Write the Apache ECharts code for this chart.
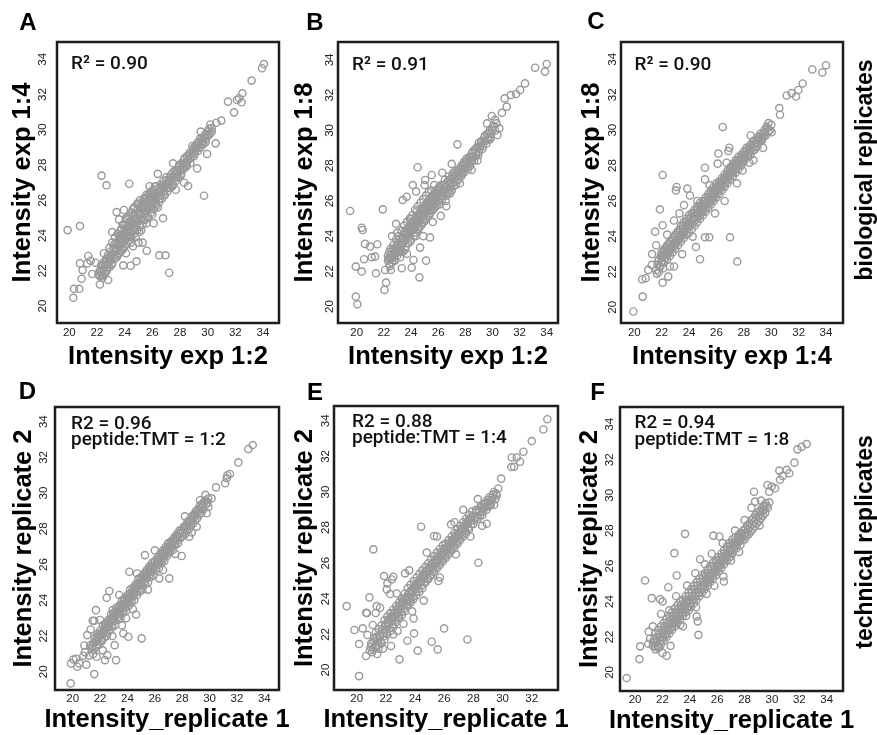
<!DOCTYPE html>
<html>
<head>
<meta charset="utf-8">
<script src="https://cdn.jsdelivr.net/npm/echarts@6/dist/echarts.min.js"></script>
<style>html,body{margin:0;padding:0;background:#fff}#chart{width:877px;height:735px}</style>
</head>
<body>
<div id="chart"></div>
<script>
// ---------------- DATA ----------------
const panelLetters = ['A', 'B', 'C', 'D', 'E', 'F'];
const xTitles = ['Intensity exp 1:2', 'Intensity exp 1:2', 'Intensity exp 1:4',
  'Intensity_replicate 1', 'Intensity_replicate 1', 'Intensity_replicate 1'];
const yTitles = ['Intensity exp 1:4', 'Intensity exp 1:8', 'Intensity exp 1:8',
  'Intensity replicate 2', 'Intensity replicate 2', 'Intensity replicate 2'];
const r2Labels = ['R\u00b2 = 0.90', 'R\u00b2 = 0.91', 'R\u00b2 = 0.90', 'R2 = 0.96', 'R2 = 0.88', 'R2 = 0.94'];
const ratioLabels = ['', '', '', 'peptide:TMT = 1:2', 'peptide:TMT = 1:4', 'peptide:TMT = 1:8'];
const rowLabels = ['biological replicates', 'technical replicates'];
const ticksFull = [20, 22, 24, 26, 28, 30, 32, 34];
const ticksShort = [20, 22, 24, 26, 28, 30, 32];

const pointsA = [
[22.1,21.8],[22.2,22.0],[22.2,21.7],[22.3,22.3],[22.3,21.9],[22.4,21.6],[22.5,22.1],[22.5,22.5],[22.6,21.9],[22.6,22.3],[22.7,22.7],[22.7,22.0],[22.8,22.4],[22.8,22.9],[22.9,22.2],[22.9,23.3],[23.0,22.6],[23.0,23.1],[23.1,22.4],[23.1,23.6],[23.2,22.9],[23.2,23.3],[23.3,22.7],[23.3,23.9],[23.4,23.2],[23.4,23.6],[23.5,22.9],[23.5,24.1],[23.6,23.4],[23.6,23.8],[23.7,23.1],[23.7,24.3],[23.8,23.6],[23.8,24.0],[23.9,23.3],[23.9,24.6],[24.0,23.8],[24.0,24.3],[24.1,23.5],[24.1,24.9],[24.2,24.0],[24.2,24.5],[24.3,23.7],[24.3,25.1],[24.4,24.2],[24.4,24.7],[24.5,23.9],[24.5,25.3],[24.6,24.4],[24.6,24.9],[24.7,24.1],[24.7,25.6],[24.8,24.6],[24.8,25.1],[24.9,24.3],[24.9,25.8],[25.0,24.8],[25.0,25.3],[25.1,24.5],[25.1,26.0],[25.2,25.0],[25.2,25.5],[25.3,24.6],[25.3,25.9],[25.4,25.2],[25.4,25.7],[25.5,24.9],[25.5,26.1],[25.6,25.4],[25.6,25.8],[25.7,25.1],[25.7,26.3],[25.8,25.6],[25.8,26.0],[25.9,25.3],[25.9,26.5],[26.0,25.8],[26.0,26.2],[26.1,25.5],[26.1,26.6],[26.2,26.0],[26.2,26.3],[26.3,25.7],[26.3,26.8],[26.4,26.2],[26.5,26.5],[26.5,25.9],[26.6,26.3],[26.6,26.9],[26.7,26.6],[26.7,26.1],[26.8,26.5],[26.8,27.1],[26.9,26.8],[26.9,26.3],[27.0,26.7],[27.0,27.3],[27.1,27.0],[27.1,26.5],[27.2,26.9],[27.3,27.3],[27.3,26.7],[27.4,27.1],[27.5,27.6],[27.5,26.9],[27.6,27.3],[27.7,27.7],[27.7,27.1],[27.8,27.5],[27.9,27.9],[27.9,27.3],[28.0,27.7],[28.1,28.1],[28.1,27.5],[28.2,27.9],[28.3,28.3],[28.3,27.8],[28.4,28.1],[28.5,28.5],[28.5,28.0],[28.6,28.3],[28.7,28.7],[28.8,28.4],[28.9,28.8],[29.0,28.5],[29.0,29.0],[29.1,28.8],[29.2,29.1],[29.3,28.8],[29.4,29.3],[29.5,29.0],[29.6,29.5],[29.7,29.2],[29.8,29.7],[29.9,29.5],[30.0,29.9],[30.1,29.7],[30.3,30.1],
[22.25,22.05],[22.35,21.75],[22.45,22.35],[22.55,21.8],[22.65,22.55],[22.75,22.2],[22.85,22.65],[22.95,22.85],[23.05,22.35],[23.15,23.0],[23.25,23.5],[23.35,23.1],[23.45,22.8],[23.55,23.5],[23.65,24.0],[23.75,23.55],[23.85,23.2],[23.95,24.1],[24.05,24.6],[24.15,23.9],[24.25,24.3],[24.35,24.8],[24.45,23.6],[24.55,24.6],[24.65,25.2],[24.75,24.35],[24.85,24.9],[24.95,25.5],[25.05,24.2],[25.15,25.2],[25.25,25.75],[25.35,24.9],[25.45,25.45],[25.55,26.3],[25.65,25.0],[25.75,25.6],[25.85,26.2],[25.95,25.6],[26.05,26.0],[26.15,26.4],[26.25,25.8],[26.35,26.4],[26.45,26.7],[26.55,26.1],[26.65,26.6],[26.75,26.85],[26.85,26.3],[26.95,26.9],[27.05,27.15],[27.15,26.7],[27.25,27.1],[27.35,27.45],[27.45,26.8],[27.55,27.35],[27.65,27.5],[27.75,27.3],[27.85,27.7],[27.95,28.0],[28.05,27.4],[28.15,27.8],[28.25,28.05],[28.35,28.4],[28.45,27.9],[28.55,28.25],[28.65,28.55],[28.75,28.1],[28.85,28.6],[28.95,28.9],[29.05,28.65],[29.15,28.95],[29.25,29.25],[29.35,29.0],[29.45,29.5],[29.55,29.2],[29.65,29.35],[29.75,29.55],[29.85,29.3],[29.95,29.75],[30.1,30.05],[30.2,29.8],
[23.6,23.0],[23.8,24.4],[24.0,23.4],[24.2,25.0],[24.4,23.9],[24.6,25.5],[24.8,23.9],[25.0,25.8],[25.2,24.3],[25.4,26.1],[25.6,24.7],[25.8,26.4],[26.0,25.2],[26.2,26.8],[26.4,25.6],[24.3,24.5],[24.5,24.7],[24.7,24.9],[24.9,25.0],[25.1,25.3],[25.3,25.5],[25.5,25.6],[25.7,25.8],[25.9,26.0],[26.1,26.2],[23.5,23.5],[23.7,23.8],[23.9,24.0],[24.1,24.2],[22.9,22.6],
[19.88,24.31],[20.29,20.47],[20.34,20.98],[20.72,20.98],[20.77,24.54],[20.89,21.55],[20.77,22.42],[20.96,22.04],[21.37,22.84],[21.3,22.42],[21.54,22.57],[21.66,21.82],[21.9,22.46],[22.33,27.4],[22.69,26.85],[24.33,26.94],[23.42,25.33],[23.95,25.45],[23.6,24.92],[24.09,24.98],[23.85,24.6],[22.21,21.23],[22.41,21.74],[22.81,21.48],[23.9,22.31],[24.43,22.29],[24.86,22.54],[25.6,23.14],[26.5,22.88],[26.95,22.88],[27.22,21.89],[26.78,24.98],[29.74,26.26],[28.59,26.81],[29.24,27.81],[28.9,29.08],[29.96,28.63],[30.58,29.23],[30.63,30.4],[30.99,30.52],[31.47,31.6],[31.91,30.99],[32.12,31.69],[32.27,31.79],[32.46,31.56],[32.51,32.07],[33.18,32.79],[33.93,33.49],[34.07,33.73],[27.5,28.1],[25.3,23.6],[24.6,23.4],[26.1,24.7],[27.7,26.6],[28.3,27.0],[30.3,29.9],[30.2,30.3],[29.5,29.9],[25.8,26.8],[26.4,27.5],[23.1,24.2],[22.5,23.0],[24.1,23.0],[25.0,23.6]
];

const pointsB = [
[22.3,22.6],[22.3,22.9],[22.4,22.4],[22.4,23.1],[22.5,22.7],[22.5,23.3],[22.6,22.5],[22.6,23.0],[22.7,22.8],[22.7,23.5],[22.8,23.1],[22.8,22.6],[22.9,23.4],[22.9,23.8],[23.0,22.9],[23.0,23.6],[23.1,23.2],[23.1,24.0],[23.2,23.5],[23.2,22.8],[23.3,23.8],[23.3,24.3],[23.4,23.1],[23.4,23.6],[23.5,24.1],[23.5,24.6],[23.6,23.4],[23.6,23.9],[23.7,24.4],[23.7,24.8],[23.8,23.6],[23.8,24.1],[23.9,24.6],[23.9,25.0],[24.0,23.8],[24.0,24.3],[24.1,24.8],[24.1,25.2],[24.2,24.0],[24.2,24.5],[24.3,25.0],[24.3,25.5],[24.4,24.2],[24.4,24.7],[24.5,25.2],[24.5,25.7],[24.6,24.5],[24.6,24.9],[24.7,25.4],[24.7,25.9],[24.8,24.7],[24.8,25.2],[24.9,25.6],[24.9,26.1],[25.0,24.9],[25.0,25.4],[25.1,25.8],[25.1,26.3],[25.2,25.1],[25.2,25.6],[25.3,26.0],[25.3,26.5],[25.4,25.3],[25.4,25.8],[25.5,26.2],[25.5,26.6],[25.6,25.5],[25.6,26.0],[25.7,26.4],[25.7,26.9],[25.8,25.7],[25.8,26.2],[25.9,26.6],[26.0,26.0],[26.0,26.4],[26.1,26.8],[26.1,25.8],[26.2,26.3],[26.2,26.9],[26.3,26.6],[26.3,26.1],[26.4,26.9],[26.5,26.5],[26.5,27.2],[26.6,26.8],[26.6,26.3],[26.7,27.1],[26.8,26.7],[26.8,27.4],[26.9,27.0],[27.0,26.6],[27.0,27.3],[27.1,27.6],[27.1,27.0],[27.2,27.3],[27.3,27.7],[27.3,26.9],[27.4,27.4],[27.5,27.8],[27.5,27.2],[27.6,27.6],[27.7,28.0],[27.7,27.4],[27.8,27.8],[27.9,28.2],[27.9,27.6],[28.0,28.0],[28.1,28.4],[28.2,28.1],[28.2,27.8],[28.3,28.5],[28.4,28.2],[28.5,28.7],[28.5,28.3],[28.6,28.5],[28.7,28.9],[28.8,28.6],[28.9,29.0],[29.0,28.8],[29.0,29.3],[29.1,29.1],[29.2,29.4],[29.3,29.1],[29.4,29.6],[29.5,29.4],[29.6,29.8],[29.7,29.5],[29.8,30.0],[29.9,29.8],[30.0,30.2],[30.2,30.0],[30.3,30.4],
[22.35,22.75],[22.45,22.3],[22.55,22.95],[22.65,23.25],[22.75,22.65],[22.85,23.3],[22.95,23.05],[23.05,23.5],[23.15,23.85],[23.25,23.15],[23.35,23.5],[23.45,23.9],[23.55,23.25],[23.65,24.15],[23.75,24.05],[23.85,24.5],[23.95,23.7],[24.05,24.55],[24.15,24.35],[24.25,24.8],[24.35,24.0],[24.45,24.95],[24.55,24.4],[24.65,25.2],[24.75,24.6],[24.85,25.45],[24.95,24.8],[25.05,25.6],[25.15,25.0],[25.25,25.85],[25.35,25.2],[25.45,25.65],[25.55,25.45],[25.65,26.2],[25.75,25.6],[25.85,26.4],[25.95,25.8],[26.05,26.55],[26.15,26.1],[26.25,26.6],[26.35,26.35],[26.45,26.75],[26.55,26.0],[26.65,27.0],[26.75,26.5],[26.85,27.2],[26.95,26.8],[27.05,27.45],[27.15,26.85],[27.25,27.5],[27.35,27.15],[27.45,27.65],[27.55,27.4],[27.65,27.85],[27.75,27.55],[27.85,28.05],[27.95,27.8],[28.05,28.25],[28.15,27.9],[28.25,28.35],[28.35,28.0],[28.45,28.5],[28.55,28.8],[28.65,28.3],[28.75,28.75],[28.85,29.05],[28.95,28.6],[29.05,29.05],[29.15,29.3],[29.25,28.95],[29.35,29.4],[29.45,29.7],[29.55,29.25],[29.65,29.6],[29.75,29.85],[29.85,29.6],[29.95,30.05],[30.1,30.25],
[23.6,24.3],[23.8,23.9],[24.0,25.0],[24.2,24.7],[24.4,25.4],[24.6,25.1],[24.8,25.6],[25.0,25.2],[25.2,25.9],[25.4,25.5],[25.6,26.3],[25.8,25.9],[26.0,26.7],[24.3,24.6],[24.5,24.8],[24.7,25.1],[24.9,25.3],[25.1,25.5],[25.3,25.7],[25.5,25.9],[25.7,26.1],[25.9,26.3],[23.9,24.3],[24.1,24.5],[23.4,23.9],[23.2,23.2],[23.0,23.3],[22.8,22.9],[22.6,22.8],[22.4,22.7],
[19.51,25.43],[19.93,20.57],[20.05,20.13],[19.93,22.27],[20.37,21.99],[20.37,24.48],[20.44,24.35],[20.54,22.69],[20.61,23.56],[20.98,23.41],[21.1,22.8],[21.35,22.84],[21.52,23.54],[21.42,21.89],[21.92,25.52],[22.09,22.08],[22.16,21.36],[22.04,20.95],[22.51,22.08],[23.32,22.18],[24.05,22.21],[24.62,21.66],[25.11,22.61],[24.18,22.65],[24.67,23.35],[24.49,27.91],[23.39,26.05],[23.68,26.24],[24.13,26.9],[24.37,26.53],[25.04,27.19],[25.53,27.47],[25.4,23.93],[26.19,25.15],[26.88,26.43],[28.47,27.76],[28.3,28.23],[27.42,29.21],[29.83,29.5],[30.37,29.74],[30.51,30.12],[29.95,30.82],[30.9,31.82],[31.35,32.01],[31.74,32.07],[32.04,32.3],[32.4,32.67],[33.14,33.56],[33.87,33.34],[34.0,33.77],[31.05,31.35],[30.7,31.0],[22.9,24.7],[23.0,24.2],[22.6,24.0],[23.7,23.0],[24.9,24.0],[25.6,24.8],[26.6,25.7],[27.6,27.0],[28.9,28.3],[29.6,30.4],[30.2,30.6],[25.0,26.9],[26.3,27.6],[27.0,28.1]
];

const pointsC = [
[21.6,22.1],[21.7,22.4],[21.8,22.0],[21.8,22.7],[21.9,22.3],[22.0,22.6],[22.0,23.1],[22.1,22.2],[22.1,22.9],[22.2,23.3],[22.2,22.6],[22.3,23.0],[22.4,23.5],[22.4,22.7],[22.5,23.2],[22.6,23.7],[22.6,22.9],[22.7,23.4],[22.8,23.9],[22.8,23.1],[22.9,23.6],[23.0,24.1],[23.0,23.3],[23.1,23.8],[23.2,24.3],[23.2,23.5],[23.3,24.0],[23.4,24.6],[23.4,23.7],[23.5,24.2],[23.6,24.8],[23.6,23.9],[23.7,24.4],[23.8,25.0],[23.8,24.1],[23.9,24.6],[24.0,25.2],[24.0,24.2],[24.1,24.8],[24.2,25.3],[24.2,24.4],[24.3,25.0],[24.4,25.5],[24.4,24.6],[24.5,25.1],[24.6,25.7],[24.6,24.8],[24.7,25.3],[24.8,25.9],[24.8,25.0],[24.9,25.5],[25.0,26.0],[25.0,25.2],[25.1,25.7],[25.2,26.2],[25.2,25.4],[25.3,25.9],[25.4,26.4],[25.4,25.6],[25.5,26.1],[25.6,26.6],[25.6,25.8],[25.7,26.3],[25.8,26.8],[25.8,26.0],[25.9,26.5],[26.0,27.0],[26.0,26.2],[26.1,26.7],[26.2,27.1],[26.2,26.4],[26.3,26.9],[26.4,27.3],[26.4,26.6],[26.5,27.1],[26.6,27.5],[26.6,26.8],[26.7,27.3],[26.8,27.7],[26.8,27.0],[26.9,27.5],[27.0,27.9],[27.0,27.2],[27.1,27.7],[27.2,28.1],[27.2,27.4],[27.3,27.9],[27.4,28.3],[27.4,27.6],[27.5,28.1],[27.6,28.5],[27.6,27.8],[27.7,28.3],[27.8,28.6],[27.8,28.0],[27.9,28.4],[28.0,28.8],[28.0,28.2],[28.1,28.6],[28.2,29.0],[28.3,28.5],[28.4,28.9],[28.5,29.2],[28.5,28.6],[28.6,29.0],[28.7,29.4],[28.8,28.9],[28.9,29.3],[29.0,29.6],[29.0,29.1],[29.1,29.5],[29.2,29.8],[29.3,29.4],[29.4,29.8],[29.5,30.0],[29.6,29.7],[29.7,30.1],[29.9,30.0],[30.0,30.3],
[21.65,21.9],[21.75,22.6],[21.85,22.3],[21.95,22.9],[22.05,22.5],[22.15,23.2],[22.25,22.8],[22.35,23.4],[22.45,23.0],[22.55,23.6],[22.65,23.2],[22.75,23.8],[22.85,23.4],[22.95,24.0],[23.05,23.6],[23.15,24.2],[23.25,23.8],[23.35,24.4],[23.45,24.0],[23.55,24.6],[23.65,24.2],[23.75,24.8],[23.85,24.4],[23.95,25.0],[24.05,24.6],[24.15,25.1],[24.25,24.7],[24.35,25.3],[24.45,24.9],[24.55,25.5],[24.65,25.1],[24.75,25.7],[24.85,25.3],[24.95,25.8],[25.05,25.45],[25.15,26.0],[25.25,25.65],[25.35,26.2],[25.45,25.85],[25.55,26.4],[25.65,26.05],[25.75,26.6],[25.85,26.25],[25.95,26.75],[26.05,26.45],[26.15,26.9],[26.25,26.65],[26.35,27.1],[26.45,26.85],[26.55,27.3],[26.65,27.05],[26.75,27.5],[26.85,27.25],[26.95,27.7],[27.05,27.45],[27.15,27.9],[27.25,27.65],[27.35,28.1],[27.45,27.85],[27.55,28.3],[27.65,28.05],[27.75,28.45],[27.85,28.2],[27.95,28.6],[28.05,28.4],[28.15,28.8],[28.25,28.6],[28.35,29.0],[28.45,28.75],[28.55,29.1],[28.65,28.85],[28.75,29.2],[28.85,29.05],[28.95,29.45],[29.05,29.3],[29.15,29.65],[29.25,29.5],[29.35,29.6],[29.45,29.65],[29.55,29.9],[29.65,30.2],[29.8,29.9],
[23.0,23.7],[23.2,23.9],[23.4,24.1],[23.6,24.3],[23.8,24.6],[24.0,24.7],[24.2,24.9],[24.4,25.1],[24.6,25.3],[24.8,25.5],[25.0,25.6],[25.2,25.8],[25.4,26.0],[25.6,26.2],[25.8,26.4],[26.0,26.6],[26.2,26.8],[26.4,27.0],[26.6,27.2],[26.8,27.4],[27.0,27.6],[27.2,27.8],[27.4,28.0],[27.6,28.2],[27.8,28.3],[22.4,23.2],[22.2,23.0],[22.0,22.8],[22.6,23.3],[22.8,23.5],
[19.93,19.76],[20.61,20.6],[20.58,21.58],[20.83,21.64],[21.02,22.11],[21.27,22.39],[21.52,24.27],[21.87,25.53],[22.07,27.47],[22.07,24.63],[22.07,21.39],[22.48,21.73],[22.6,22.3],[23.09,26.79],[23.04,26.59],[23.87,26.7],[24.07,26.31],[23.63,25.77],[25.16,27.88],[25.16,27.22],[26.14,28.68],[26.46,30.18],[26.87,28.82],[26.94,29.01],[26.74,28.16],[26.09,28.11],[24.8,22.71],[25.16,23.95],[25.48,23.95],[26.99,23.95],[27.52,22.58],[24.26,23.99],[28.4,28.16],[27.91,27.72],[29.3,29.46],[30.03,29.88],[30.64,30.87],[30.59,31.25],[31.13,31.96],[31.49,32.09],[31.81,31.9],[31.98,32.27],[32.3,32.64],[33.0,33.43],[33.73,33.26],[34.0,33.67],[21.3,23.0],[21.6,23.5],[22.4,24.1],[22.9,24.9],[23.3,25.3],[24.5,23.4],[23.5,23.0],[22.9,22.3],[25.9,25.3],[26.6,26.0],[27.5,27.0],[28.7,28.3],[29.4,29.0],[28.5,29.7],[29.8,30.4],[24.6,26.0],[25.5,26.9]
];

const pointsD = [
[21.4,21.3],[21.5,21.6],[21.5,21.0],[21.6,21.9],[21.7,21.4],[21.7,21.7],[21.8,22.1],[21.9,21.5],[21.9,21.9],[22.0,22.3],[22.1,21.7],[22.1,22.1],[22.2,22.6],[22.3,21.9],[22.3,22.3],[22.4,22.7],[22.5,22.0],[22.5,22.5],[22.6,22.9],[22.7,22.3],[22.7,22.7],[22.8,23.2],[22.9,22.5],[22.9,22.9],[23.0,23.3],[23.1,22.6],[23.1,23.1],[23.2,23.6],[23.3,22.9],[23.3,23.3],[23.4,23.7],[23.5,23.0],[23.5,23.5],[23.6,24.0],[23.7,23.3],[23.7,23.7],[23.8,24.1],[23.9,23.4],[23.9,23.9],[24.0,24.3],[24.1,23.7],[24.1,24.1],[24.2,24.6],[24.3,23.9],[24.3,24.3],[24.4,24.7],[24.5,24.0],[24.5,24.5],[24.6,24.9],[24.7,24.3],[24.7,24.7],[24.8,25.2],[24.9,24.5],[24.9,24.9],[25.0,25.3],[25.1,24.6],[25.1,25.1],[25.2,25.5],[25.3,24.9],[25.3,25.3],[25.4,25.7],[25.5,25.0],[25.5,25.5],[25.6,25.9],[25.7,25.3],[25.7,25.7],[25.8,26.1],[25.9,25.4],[25.9,25.9],[26.0,26.2],[26.1,25.7],[26.1,26.0],[26.2,26.4],[26.3,25.8],[26.3,26.2],[26.4,26.6],[26.5,26.1],[26.5,26.4],[26.6,26.8],[26.7,26.2],[26.7,26.6],[26.8,27.0],[26.9,26.5],[26.9,26.8],[27.0,27.2],[27.1,26.7],[27.1,27.0],[27.2,27.3],[27.3,26.8],[27.3,27.2],[27.4,27.5],[27.5,27.1],[27.5,27.4],[27.6,27.7],[27.7,27.2],[27.7,27.6],[27.8,27.9],[27.9,27.5],[28.0,27.8],[28.1,28.1],[28.2,27.7],[28.3,28.1],[28.4,28.4],[28.5,28.0],[28.6,28.4],[28.7,28.7],[28.8,28.3],[28.9,28.7],[29.0,29.0],[29.1,28.6],[29.2,29.0],[29.3,29.3],[29.4,28.9],[29.5,29.3],[29.6,29.5],[29.8,29.4],[29.9,29.7],
[21.45,21.45],[21.55,21.25],[21.65,21.65],[21.75,21.9],[21.85,21.55],[21.95,22.15],[22.05,22.0],[22.15,21.8],[22.25,22.3],[22.35,22.55],[22.45,22.2],[22.55,22.75],[22.65,22.5],[22.75,22.95],[22.85,22.6],[22.95,23.15],[23.05,22.85],[23.15,23.35],[23.25,23.05],[23.35,23.55],[23.45,23.25],[23.55,23.75],[23.65,23.45],[23.75,23.95],[23.85,23.6],[23.95,24.15],[24.05,23.9],[24.15,24.35],[24.25,24.05],[24.35,24.55],[24.45,24.25],[24.55,24.75],[24.65,24.45],[24.75,24.95],[24.85,24.65],[24.95,25.15],[25.05,24.85],[25.15,25.35],[25.25,25.05],[25.35,25.55],[25.45,25.25],[25.55,25.75],[25.65,25.45],[25.75,25.9],[25.85,25.6],[25.95,26.1],[26.05,25.85],[26.15,26.25],[26.25,26.0],[26.35,26.45],[26.45,26.2],[26.55,26.6],[26.65,26.35],[26.75,26.8],[26.85,26.6],[26.95,27.0],[27.05,26.8],[27.15,27.15],[27.25,26.95],[27.35,27.35],[27.45,27.15],[27.55,27.55],[27.65,27.35],[27.75,27.75],[27.85,27.5],[27.95,27.9],[28.05,27.6],[28.15,28.0],[28.25,28.2],[28.35,27.9],[28.45,28.25],[28.55,28.5],[28.65,28.2],[28.75,28.55],[28.85,28.8],[28.95,28.5],[29.05,28.85],[29.15,29.1],[29.25,28.8],[29.35,29.15],[29.45,29.4],[29.55,29.1],[29.7,29.6],[29.85,29.5],
[22.0,22.05],[22.2,22.15],[22.4,22.45],[22.6,22.55],[22.8,22.85],[23.0,22.95],[23.2,23.25],[23.4,23.35],[23.6,23.65],[23.8,23.75],[24.0,24.05],[24.2,24.15],[24.4,24.45],[24.6,24.55],[24.8,24.85],[25.0,24.95],[25.2,25.25],[25.4,25.35],[25.6,25.65],[25.8,25.75],[26.0,25.95],[26.2,26.2],[26.4,26.3],[26.6,26.6],[26.8,26.7],[27.0,27.0],[27.2,27.1],[27.4,27.35],[27.6,27.5],[27.8,27.75],
[19.85,19.35],[19.88,20.47],[20.05,20.69],[20.24,20.73],[20.34,20.28],[20.49,20.47],[20.78,20.9],[20.85,21.47],[21.07,22.05],[21.27,21.47],[21.31,22.37],[21.46,22.86],[21.58,22.86],[21.7,23.45],[21.58,19.87],[21.75,20.84],[22.36,20.65],[22.53,20.93],[22.48,24.14],[22.68,24.52],[22.92,23.45],[23.17,20.65],[23.07,21.49],[23.7,22.15],[24.07,21.96],[24.14,25.6],[24.63,23.21],[25.04,21.87],[25.28,26.53],[26.33,25.23],[27.06,25.23],[26.99,27.19],[28.52,27.56],[27.96,26.48],[29.06,28.12],[29.79,28.87],[29.91,29.24],[30.15,29.71],[30.47,30.32],[31.13,30.55],[31.25,30.83],[31.49,31.07],[32.1,31.72],[32.83,32.47],[33.15,32.69],[31.3,31.0],[29.7,29.9],[29.3,29.6],[22.0,22.9],[22.9,22.0],[23.4,24.3],[23.9,23.0],[24.7,25.5],[25.5,24.6],[26.0,26.8],[26.6,25.7],[27.5,26.6],[28.2,28.7],[28.7,27.8],[21.2,20.9],[20.9,21.1],[21.0,20.4],[22.2,21.2],[23.6,22.6],[24.4,23.5]
];

const pointsE = [
[20.9,21.1],[21.0,21.5],[21.1,21.2],[21.2,21.8],[21.3,21.4],[21.3,22.1],[21.4,21.6],[21.5,22.3],[21.5,21.2],[21.6,21.9],[21.7,22.5],[21.7,21.5],[21.8,22.1],[21.9,22.8],[21.9,21.7],[22.0,22.3],[22.1,23.0],[22.1,22.0],[22.2,22.6],[22.3,23.2],[22.3,22.2],[22.4,22.8],[22.5,23.4],[22.5,22.4],[22.6,23.0],[22.7,23.6],[22.7,22.7],[22.8,23.2],[22.9,23.8],[22.9,22.9],[23.0,23.5],[23.1,24.0],[23.1,23.1],[23.2,23.7],[23.3,24.3],[23.3,23.3],[23.4,23.9],[23.5,24.6],[23.5,23.6],[23.6,24.1],[23.7,24.8],[23.7,23.8],[23.8,24.4],[23.9,25.0],[23.9,24.0],[24.0,24.6],[24.1,25.2],[24.1,24.2],[24.2,24.8],[24.3,25.4],[24.3,24.4],[24.4,25.0],[24.5,25.6],[24.5,24.6],[24.6,25.2],[24.7,25.8],[24.7,24.9],[24.8,25.4],[24.9,26.0],[24.9,25.1],[25.0,25.6],[25.1,26.2],[25.1,25.3],[25.2,25.8],[25.3,26.4],[25.3,25.5],[25.4,26.0],[25.5,26.6],[25.5,25.7],[25.6,26.2],[25.7,26.8],[25.7,25.9],[25.8,26.4],[25.9,27.0],[25.9,26.1],[26.0,26.6],[26.1,27.1],[26.1,26.3],[26.2,26.8],[26.3,27.3],[26.3,26.5],[26.4,27.0],[26.5,27.5],[26.5,26.7],[26.6,27.2],[26.7,27.7],[26.7,26.9],[26.8,27.4],[26.9,27.9],[26.9,27.1],[27.0,27.6],[27.1,28.1],[27.1,27.3],[27.2,27.8],[27.3,28.3],[27.3,27.5],[27.4,28.0],[27.5,28.5],[27.5,27.7],[27.6,28.2],[27.7,28.7],[27.7,27.9],[27.8,28.4],[27.9,28.9],[28.0,28.2],[28.1,28.6],[28.2,29.0],[28.3,28.5],[28.4,28.9],[28.5,29.2],[28.6,28.7],[28.7,29.1],[28.8,29.4],[28.9,29.0],[29.0,29.4],[29.1,29.7],[29.2,29.3],[29.3,29.7],[29.4,30.0],[29.6,29.8],[29.7,30.2],
[20.95,21.3],[21.05,21.0],[21.15,21.6],[21.25,21.3],[21.35,21.85],[21.45,21.4],[21.55,22.0],[21.65,21.6],[21.75,22.25],[21.85,21.9],[21.95,22.5],[22.05,22.1],[22.15,22.7],[22.25,22.35],[22.35,22.95],[22.45,22.55],[22.55,23.15],[22.65,22.8],[22.75,23.4],[22.85,23.0],[22.95,23.6],[23.05,23.25],[23.15,23.8],[23.25,23.45],[23.35,24.05],[23.45,23.7],[23.55,24.3],[23.65,23.9],[23.75,24.5],[23.85,24.1],[23.95,24.7],[24.05,24.35],[24.15,24.9],[24.25,24.55],[24.35,25.1],[24.45,24.75],[24.55,25.35],[24.65,24.95],[24.75,25.55],[24.85,25.15],[24.95,25.75],[25.05,25.35],[25.15,25.95],[25.25,25.6],[25.35,26.15],[25.45,25.8],[25.55,26.35],[25.65,26.0],[25.75,26.55],[25.85,26.2],[25.95,26.75],[26.05,26.4],[26.15,26.9],[26.25,26.6],[26.35,27.1],[26.45,26.8],[26.55,27.3],[26.65,27.0],[26.75,27.5],[26.85,27.2],[26.95,27.7],[27.05,27.4],[27.15,27.9],[27.25,27.6],[27.35,28.05],[27.45,27.8],[27.55,28.25],[27.65,28.0],[27.75,28.5],[27.85,28.2],[27.95,28.65],[28.05,28.4],[28.15,28.85],[28.25,28.6],[28.35,29.0],[28.45,28.7],[28.55,29.15],[28.65,28.9],[28.75,29.3],[28.85,29.15],[28.95,29.55],[29.05,29.2],[29.15,29.5],[29.25,29.55],[29.35,29.85],[29.5,29.6],
[22.0,22.6],[22.2,22.85],[22.4,23.0],[22.6,23.25],[22.8,23.4],[23.0,23.7],[23.2,23.95],[23.4,24.1],[23.6,24.35],[23.8,24.5],[24.0,24.75],[24.2,24.9],[24.4,25.15],[24.6,25.3],[24.8,25.55],[25.0,25.7],[25.2,25.95],[25.4,26.1],[25.6,26.35],[25.8,26.5],[26.0,26.75],[26.2,26.9],[26.4,27.15],[26.6,27.3],[26.8,27.55],[27.0,27.7],[27.2,27.95],[27.4,28.1],[27.6,28.35],[27.8,28.5],
[19.31,23.59],[19.84,22.25],[20.16,19.66],[20.16,21.46],[20.41,22.34],[20.64,23.22],[20.7,23.2],[20.64,20.79],[20.87,24.08],[20.73,21.97],[21.1,22.53],[21.14,26.78],[21.37,23.59],[21.87,25.28],[22.06,24.53],[22.1,24.87],[22.4,25.09],[22.51,25.24],[22.29,24.27],[22.74,24.3],[22.93,20.6],[22.35,21.35],[23.31,25.43],[23.47,21.65],[23.93,22.06],[24.18,21.09],[24.41,28.05],[25.14,21.59],[25.55,21.16],[25.99,22.34],[27.59,21.72],[25.3,27.53],[26.47,28.18],[28.34,26.03],[28.91,28.22],[29.14,29.25],[29.42,29.29],[29.55,29.91],[29.9,30.75],[30.63,31.94],[30.79,31.42],[30.97,31.94],[31.2,31.7],[31.43,32.26],[32.0,32.86],[32.8,33.51],[33.07,34.09],[30.6,31.4],[21.4,20.9],[21.8,21.2],[22.5,22.0],[21.6,23.5],[21.3,23.2],[22.8,22.2],[23.2,22.6],[23.8,23.3],[24.6,23.9],[23.9,22.9],[25.7,25.2],[25.6,25.0],[26.8,26.5],[27.8,27.5],[28.6,28.1],[28.3,29.6],[24.8,26.6],[25.5,27.5],[23.6,25.6],[26.7,28.3],[27.3,29.0]
];

const pointsF = [
[21.3,21.5],[21.4,21.9],[21.5,21.3],[21.5,22.2],[21.6,21.7],[21.7,22.4],[21.7,21.4],[21.8,22.0],[21.9,22.6],[21.9,21.6],[22.0,22.2],[22.1,22.8],[22.1,21.8],[22.2,22.4],[22.3,23.0],[22.3,22.0],[22.4,22.6],[22.5,23.2],[22.5,22.2],[22.6,22.8],[22.7,23.4],[22.7,22.4],[22.8,23.0],[22.9,23.6],[22.9,22.6],[23.0,23.2],[23.1,23.8],[23.1,22.8],[23.2,23.4],[23.3,24.0],[23.3,23.0],[23.4,23.6],[23.5,24.1],[23.5,23.2],[23.6,23.8],[23.7,24.3],[23.7,23.4],[23.8,24.0],[23.9,24.5],[23.9,23.5],[24.0,24.1],[24.1,24.7],[24.1,23.7],[24.2,24.3],[24.3,24.9],[24.3,23.9],[24.4,24.5],[24.5,25.1],[24.5,24.1],[24.6,24.7],[24.7,25.3],[24.7,24.3],[24.8,24.9],[24.9,25.5],[24.9,24.5],[25.0,25.1],[25.1,25.6],[25.1,24.7],[25.2,25.2],[25.3,25.8],[25.3,24.9],[25.4,25.4],[25.5,26.0],[25.5,25.1],[25.6,25.6],[25.7,26.2],[25.7,25.3],[25.8,25.8],[25.9,26.3],[25.9,25.5],[26.0,26.0],[26.1,26.5],[26.1,25.7],[26.2,26.2],[26.3,26.7],[26.3,25.9],[26.4,26.4],[26.5,26.9],[26.5,26.1],[26.6,26.6],[26.7,27.1],[26.7,26.3],[26.8,26.8],[26.9,27.3],[26.9,26.5],[27.0,27.0],[27.1,27.5],[27.1,26.7],[27.2,27.2],[27.3,27.6],[27.4,27.0],[27.5,27.4],[27.6,27.8],[27.7,27.2],[27.8,27.6],[27.9,28.0],[28.0,27.5],[28.1,27.9],[28.2,28.3],[28.3,27.8],[28.4,28.2],[28.5,28.6],[28.6,28.1],[28.7,28.5],[28.8,28.9],[28.9,28.4],[29.0,28.8],[29.1,29.1],[29.2,28.7],[29.3,29.1],[29.4,29.4],[29.5,29.0],[29.6,29.4],[29.8,29.6],
[21.35,21.7],[21.45,21.45],[21.55,21.95],[21.65,21.5],[21.75,22.15],[21.85,21.75],[21.95,22.35],[22.05,21.95],[22.15,22.55],[22.25,22.15],[22.35,22.75],[22.45,22.35],[22.55,22.95],[22.65,22.55],[22.75,23.15],[22.85,22.75],[22.95,23.35],[23.05,22.95],[23.15,23.55],[23.25,23.15],[23.35,23.75],[23.45,23.35],[23.55,23.9],[23.65,23.55],[23.75,24.1],[23.85,23.7],[23.95,24.3],[24.05,23.9],[24.15,24.5],[24.25,24.1],[24.35,24.7],[24.45,24.3],[24.55,24.9],[24.65,24.5],[24.75,25.1],[24.85,24.7],[24.95,25.3],[25.05,24.9],[25.15,25.45],[25.25,25.05],[25.35,25.6],[25.45,25.25],[25.55,25.8],[25.65,25.45],[25.75,26.0],[25.85,25.65],[25.95,26.15],[26.05,25.85],[26.15,26.35],[26.25,26.05],[26.35,26.55],[26.45,26.25],[26.55,26.75],[26.65,26.45],[26.75,26.95],[26.85,26.65],[26.95,27.15],[27.05,26.85],[27.15,27.35],[27.25,27.0],[27.35,27.4],[27.45,27.2],[27.55,27.65],[27.65,27.4],[27.75,27.85],[27.85,27.5],[27.95,27.8],[28.05,28.1],[28.15,27.7],[28.25,28.05],[28.35,28.4],[28.45,27.95],[28.55,28.35],[28.65,28.7],[28.75,28.25],[28.85,28.65],[28.95,29.0],[29.05,28.55],[29.15,28.9],[29.25,29.25],[29.35,28.85],[29.45,29.2],[29.55,29.55],[29.7,29.3],
[22.0,21.95],[22.2,22.1],[22.4,22.35],[22.6,22.5],[22.8,22.75],[23.0,22.9],[23.2,23.15],[23.4,23.3],[23.6,23.55],[23.8,23.7],[24.0,23.95],[24.2,24.1],[24.4,24.35],[24.6,24.5],[24.8,24.75],[25.0,24.9],[25.2,25.15],[25.4,25.3],[25.6,25.55],[25.8,25.7],[26.0,25.95],[26.2,26.1],[26.4,26.35],[26.6,26.5],[26.8,26.75],[27.0,26.9],[27.2,27.15],[27.4,27.3],[27.6,27.55],[27.8,27.7],
[19.39,19.68],[20.32,20.75],[20.37,21.47],[20.73,25.19],[20.97,21.62],[21.22,24.19],[21.83,24.13],[22.02,24.0],[21.78,21.43],[22.31,20.94],[22.6,21.5],[22.43,24.81],[22.87,26.73],[23.04,25.47],[23.65,27.82],[23.29,22.69],[23.73,23.19],[24.46,23.68],[24.5,23.16],[24.58,22.88],[24.63,22.12],[25.23,24.43],[25.79,24.89],[26.45,25.41],[26.49,25.13],[26.16,27.67],[25.72,27.72],[24.75,26.39],[27.01,26.32],[26.99,26.54],[28.16,27.89],[28.69,30.2],[28.77,29.64],[29.67,30.58],[29.98,30.49],[30.23,30.39],[30.54,31.39],[30.59,30.87],[30.79,31.09],[31.08,31.43],[31.27,31.24],[31.64,31.84],[31.86,32.59],[32.17,32.74],[32.54,32.89],[21.1,21.9],[21.0,22.3],[21.3,22.6],[21.9,23.3],[22.5,23.5],[23.0,24.3],[23.8,24.9],[24.4,25.6],[25.1,26.1],[25.6,26.7],[26.4,27.3],[27.3,28.0],[28.0,28.6],[28.5,29.3],[29.2,29.7],[29.8,30.2],[22.0,21.1],[23.5,22.6],[27.6,26.8],[29.1,28.3]
];

const panelPoints = [pointsA, pointsB, pointsC, pointsD, pointsE, pointsF];
const panelTicksX = [ticksFull, ticksFull, ticksFull, ticksFull, ticksShort, ticksFull];

// ---------------- LAYOUT ----------------
const layout = [
  { grid: [57, 42, 222, 281],  x: [19.11, 35.16], y: [19.04, 34.98], yLabM: 8,  yNameGap: 20, xNameGap: 21, letter: [28, 23], note: [71, 64.5] },
  { grid: [338, 42, 220, 281], x: [18.62, 34.83], y: [19.07, 35.02], yLabM: 2,  yNameGap: 20, xNameGap: 21, letter: [315, 23], note: [352, 65] },
  { grid: [621, 42, 222, 281], x: [19.03, 35.24], y: [19.11, 34.98], yLabM: 2,  yNameGap: 16, xNameGap: 21, letter: [596, 22.5], note: [634.5, 65] },
  { grid: [55, 407, 224, 283], x: [18.71, 35.07], y: [18.98, 34.82], yLabM: 5,  yNameGap: 18, xNameGap: 17, letter: [27.5, 392.5], note: [71, 424] },
  { grid: [334, 406, 224, 284], x: [18.44, 33.8], y: [18.88, 34.83], yLabM: 2,  yNameGap: 16, xNameGap: 17, letter: [315, 393.5], note: [352, 422] },
  { grid: [620, 407, 223, 284], x: [18.9, 35.19], y: [18.95, 34.98], yLabM: 4,  yNameGap: 15, xNameGap: 17, letter: [597.5, 393.5], note: [634.5, 423.5] }
];

const FONT = 'Liberation Sans, Arial, sans-serif';
const grids = [], xAxes = [], yAxes = [], series = [], graphics = [];

layout.forEach((L, i) => {
  grids.push({
    left: L.grid[0], top: L.grid[1], width: L.grid[2], height: L.grid[3],
    show: true, borderColor: '#1e1e1e', borderWidth: 2.5, backgroundColor: '#fff',
    containLabel: false, outerBoundsMode: 'none'
  });
  xAxes.push({
    gridIndex: i, type: 'value', min: L.x[0], max: L.x[1],
    axisLine: { show: false }, axisTick: { show: false }, splitLine: { show: false },
    axisLabel: { customValues: panelTicksX[i], fontSize: 11.5, color: '#222', margin: i < 3 ? 4 : 3, fontFamily: FONT },
    name: xTitles[i], nameLocation: 'middle', nameGap: L.xNameGap,
    nameTextStyle: { fontSize: 25.5, fontWeight: 'bold', fontFamily: FONT, color: '#000' }
  });
  yAxes.push({
    gridIndex: i, type: 'value', min: L.y[0], max: L.y[1],
    axisLine: { show: false }, axisTick: { show: false }, splitLine: { show: false },
    axisLabel: { customValues: ticksFull, fontSize: 11.5, color: '#222', margin: L.yLabM, rotate: 90, fontFamily: FONT },
    name: yTitles[i], nameLocation: 'middle', nameGap: L.yNameGap,
    nameTextStyle: { fontSize: 25.5, fontWeight: 'bold', fontFamily: FONT, color: '#000' }
  });
  series.push({
    type: 'scatter', xAxisIndex: i, yAxisIndex: i, data: panelPoints[i],
    symbol: 'circle', symbolSize: 7.2, silent: true,
    itemStyle: { color: 'rgba(0,0,0,0)', borderColor: '#999999', borderWidth: 1.4, opacity: 1 }
  });
  graphics.push({
    type: 'text', x: L.letter[0], y: L.letter[1],
    style: { text: panelLetters[i], font: 'bold 24px ' + FONT, fill: '#000', align: 'center', verticalAlign: 'middle' }
  });
  graphics.push({
    type: 'text', x: L.note[0], y: L.note[1], z: 10,
    style: { text: r2Labels[i], font: '500 19px Roboto', fill: '#111', align: 'left', verticalAlign: 'middle' }
  });
  if (ratioLabels[i]) {
    graphics.push({
      type: 'text', x: L.note[0], y: L.note[1] + 16.5, z: 10,
      style: { text: ratioLabels[i], font: '500 19px Roboto', fill: '#111', align: 'left', verticalAlign: 'middle' }
    });
  }
});

const rowLabelPos = [[866, 170], [866, 542]];
rowLabels.forEach((t, r) => {
  graphics.push({
    type: 'text', x: rowLabelPos[r][0], y: rowLabelPos[r][1], rotation: Math.PI / 2,
    style: { text: t, font: 'bold 23px ' + FONT, fill: '#000', align: 'center', verticalAlign: 'middle' }
  });
});

const chart = echarts.init(document.getElementById('chart'), null, { renderer: 'canvas' });
chart.setOption({
  animation: false,
  backgroundColor: '#fff',
  grid: grids, xAxis: xAxes, yAxis: yAxes, series: series,
  graphic: { elements: graphics }
});
</script>
</body>
</html>
